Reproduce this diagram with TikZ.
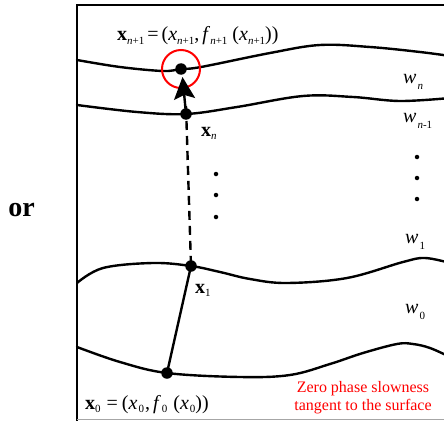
\documentclass[tikz,border=0pt]{standalone}
\usepackage{fontspec}
\setmainfont{Liberation Serif}
\usetikzlibrary{arrows.meta}
\newcommand\sbx[1]{\raisebox{-3.5pt}{\fontsize{11}{11}\selectfont #1}}
\newcommand\sbw[1]{\raisebox{-6pt}{\fontsize{11}{11}\selectfont #1}}
\tikzset{
  curve/.style={line width=2.4pt, line cap=round},
  frame/.style={line width=2.4pt},
  bigdot/.style={circle, fill=black, inner sep=0pt, minimum size=11.5pt},
  smalldot/.style={circle, fill=black, inner sep=0pt, minimum size=4.5pt},
  lbl/.style={inner sep=0pt, font=\fontsize{20}{22}\selectfont},
}
\begin{document}
\begin{tikzpicture}[x=1pt,y=-1pt]
\useasboundingbox (0,0) rectangle (444,420);
\fill[white] (0,0) rectangle (444,420);
\begin{scope}
\clip (0,0) rectangle (444,420);
% frame
\draw[frame] (77,440) -- (77,5) -- (460,5);
\draw[gray!70, line width=1.2pt] (77,419.6) -- (460,419.6);
% surfaces
\draw[curve] plot[smooth, tension=0.6] coordinates {(77,60) (120,67) (163,71) (181,69) (201,67) (270,53) (320,45) (370,47) (420,52) (450,56)};
\draw[curve] plot[smooth, tension=0.6] coordinates {(77,105) (137,112) (186,114) (237,107) (303,96) (353,97) (400,101) (450,98)};
\draw[curve] plot[smooth, tension=0.6] coordinates {(77,283) (103,268) (153,263) (191,266) (220,272) (250,279) (287,283) (347,278) (403,262) (425,258) (450,263)};
\draw[curve] plot[smooth, tension=0.6] coordinates {(77,347) (120,362) (167,373) (240,377) (290,375) (330,364) (363,353) (397,344) (413,344) (430,348) (450,357)};
\end{scope}
% points
\node[bigdot] (x0) at (167,373) {};
\node[bigdot] (x1) at (191,266) {};
\node[bigdot] (xn) at (186,114) {};
\node[bigdot] (xn1) at (181,69) {};
\node[draw=red, circle, line width=2pt, minimum size=38pt, inner sep=0pt] (ring) at (xn1) {};
\coordinate (tip) at (182.5,77);
% connectors
\draw[line width=2.4pt] (x0.center) -- (x1.center);
\draw[line width=2.4pt, dash pattern=on 9pt off 6pt] ([yshift=8pt]xn.center) -- (x1.center);
\draw[line width=2.4pt, -{Stealth[length=22pt,width=21pt,inset=4pt]}] (xn.center) -- (tip);
% ellipsis dots
\node[smalldot] (d1) at (216,174) {};
\node[smalldot] (d2) at (216,195) {};
\node[smalldot] (d3) at (216,217) {};
\node[smalldot] (d4) at (417,157) {};
\node[smalldot] (d5) at (417,178) {};
\node[smalldot] (d6) at (417,199) {};
% labels
\node[lbl, anchor=base west] (lxn1) at (117,41) {\textbf{x}\sbx{\textit{n}+1}\hspace{3pt}=\hspace{3pt}(\textit{x}\sbx{\textit{n}+1},\hspace{3pt}\textit{f}\sbx{\textit{n}+1}\hspace{5pt}(\textit{x}\sbx{\textit{n}+1}))};
\node[lbl, anchor=base west] (lx0) at (85,409) {\textbf{x}\sbx{0}\hspace{6pt}=\hspace{4pt}(\textit{x}\hspace{1pt}\sbx{0}\hspace{1pt},\hspace{3pt}\textit{f}\hspace{1pt}\sbx{0}\hspace{6pt}(\textit{x}\hspace{1pt}\sbx{0}))};
\node[lbl, anchor=base west] (lxn) at (201,136) {\textbf{x}\sbx{\textit{n}}};
\node[lbl, anchor=base west] (lx1) at (195,293) {\textbf{x}\sbx{1}};
\node[lbl, anchor=base west] (wn) at (403,83) {\textit{w}\hspace{1pt}\sbw{\textit{n}}};
\node[lbl, anchor=base west] (wn1) at (403,122) {\textit{w}\hspace{1pt}\sbw{\textit{n}-1}};
\node[lbl, anchor=base west] (w1) at (405,243) {\textit{w}\hspace{1pt}\sbw{1}};
\node[lbl, anchor=base west] (w0) at (405,313) {\textit{w}\hspace{1pt}\sbw{0}};
\node[inner sep=0pt, anchor=base, align=center, text=red, font=\fontsize{16}{18}\selectfont] (note) at (363,410) {Zero phase slowness\\tangent to the surface};
\node[inner sep=0pt, anchor=center, font=\fontsize{28}{30}\selectfont\bfseries] (or) at (21.5,210) {or};
\end{tikzpicture}
\end{document}
